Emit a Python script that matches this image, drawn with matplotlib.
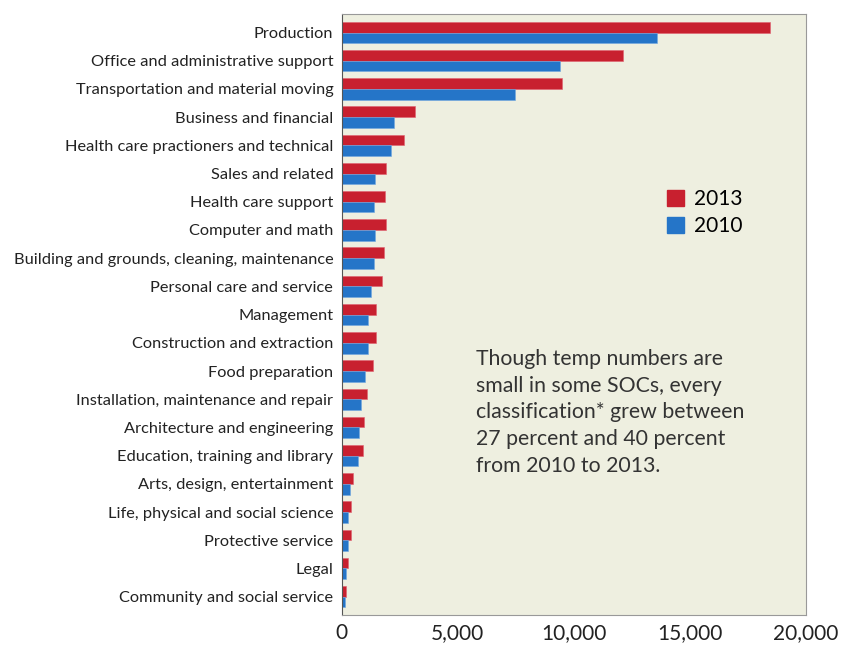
import numpy as np
import matplotlib.pyplot as plt
from matplotlib.patches import Patch

plt.rcParams['font.family'] = ['Lato', 'DejaVu Sans']

categories = [
    'Production',
    'Office and administrative support',
    'Transportation and material moving',
    'Business and financial',
    'Health care practioners and technical',
    'Sales and related',
    'Health care support',
    'Computer and math',
    'Building and grounds, cleaning, maintenance',
    'Personal care and service',
    'Management',
    'Construction and extraction',
    'Food preparation',
    'Installation, maintenance and repair',
    'Architecture and engineering',
    'Education, training and library',
    'Arts, design, entertainment',
    'Life, physical and social science',
    'Protective service',
    'Legal',
    'Community and social service',
]
vals_2013 = [18450, 12100, 9500, 3180, 2670, 1930, 1880, 1890, 1830, 1720, 1480,
             1480, 1370, 1090, 980, 930, 500, 390, 390, 270, 190]
vals_2010 = [13600, 9400, 7460, 2250, 2110, 1450, 1390, 1420, 1390, 1260, 1120,
             1150, 1000, 850, 750, 720, 340, 290, 290, 200, 130]

red = '#C8202F'
blue = '#2575C8'

fig = plt.figure(figsize=(8.52, 6.46), dpi=100)
ax = fig.add_axes([0.401, 0.048, 0.545, 0.93])
ax.set_facecolor('#EEEFE0')

y = np.arange(len(categories))
h = 0.38
ax.barh(y - h / 2, vals_2013, height=h, color=red, edgecolor='#E06070', linewidth=0.4)
ax.barh(y + h / 2, vals_2010, height=h, color=blue, edgecolor='#70A8E0', linewidth=0.4)

ax.set_ylim(len(categories) - 0.35, -0.65)
ax.set_xlim(0, 20000)
ax.set_yticks(y)
ax.set_yticklabels(categories, fontsize=11.8, color='#222222')
ax.set_xticks([0, 5000, 10000, 15000, 20000])
ax.set_xticklabels(['0', '5,000', '10,000', '15,000', '20,000'], fontsize=15, color='#222222')
ax.tick_params(length=0, pad=6)
for s in ['top', 'right', 'bottom']:
    ax.spines[s].set_color('#999999')
    ax.spines[s].set_linewidth(0.8)
ax.spines['left'].set_color('#555555')

handles = [Patch(color=red, label='2013'), Patch(color=blue, label='2010')]
ax.legend(handles=handles, loc='upper left', bbox_to_anchor=(0.66, 0.74), frameon=False,
          fontsize=15, handlelength=0.8, handleheight=0.8, handletextpad=0.5, labelspacing=0.35)

ax.text(0.29, 0.443,
        'Though temp numbers are\nsmall in some SOCs, every\nclassification* grew between\n27 percent and 40 percent\nfrom 2010 to 2013.',
        transform=ax.transAxes, fontsize=15.3, color='#333333', va='top', ha='left', linespacing=1.42)

plt.savefig('out.png', dpi=100)
